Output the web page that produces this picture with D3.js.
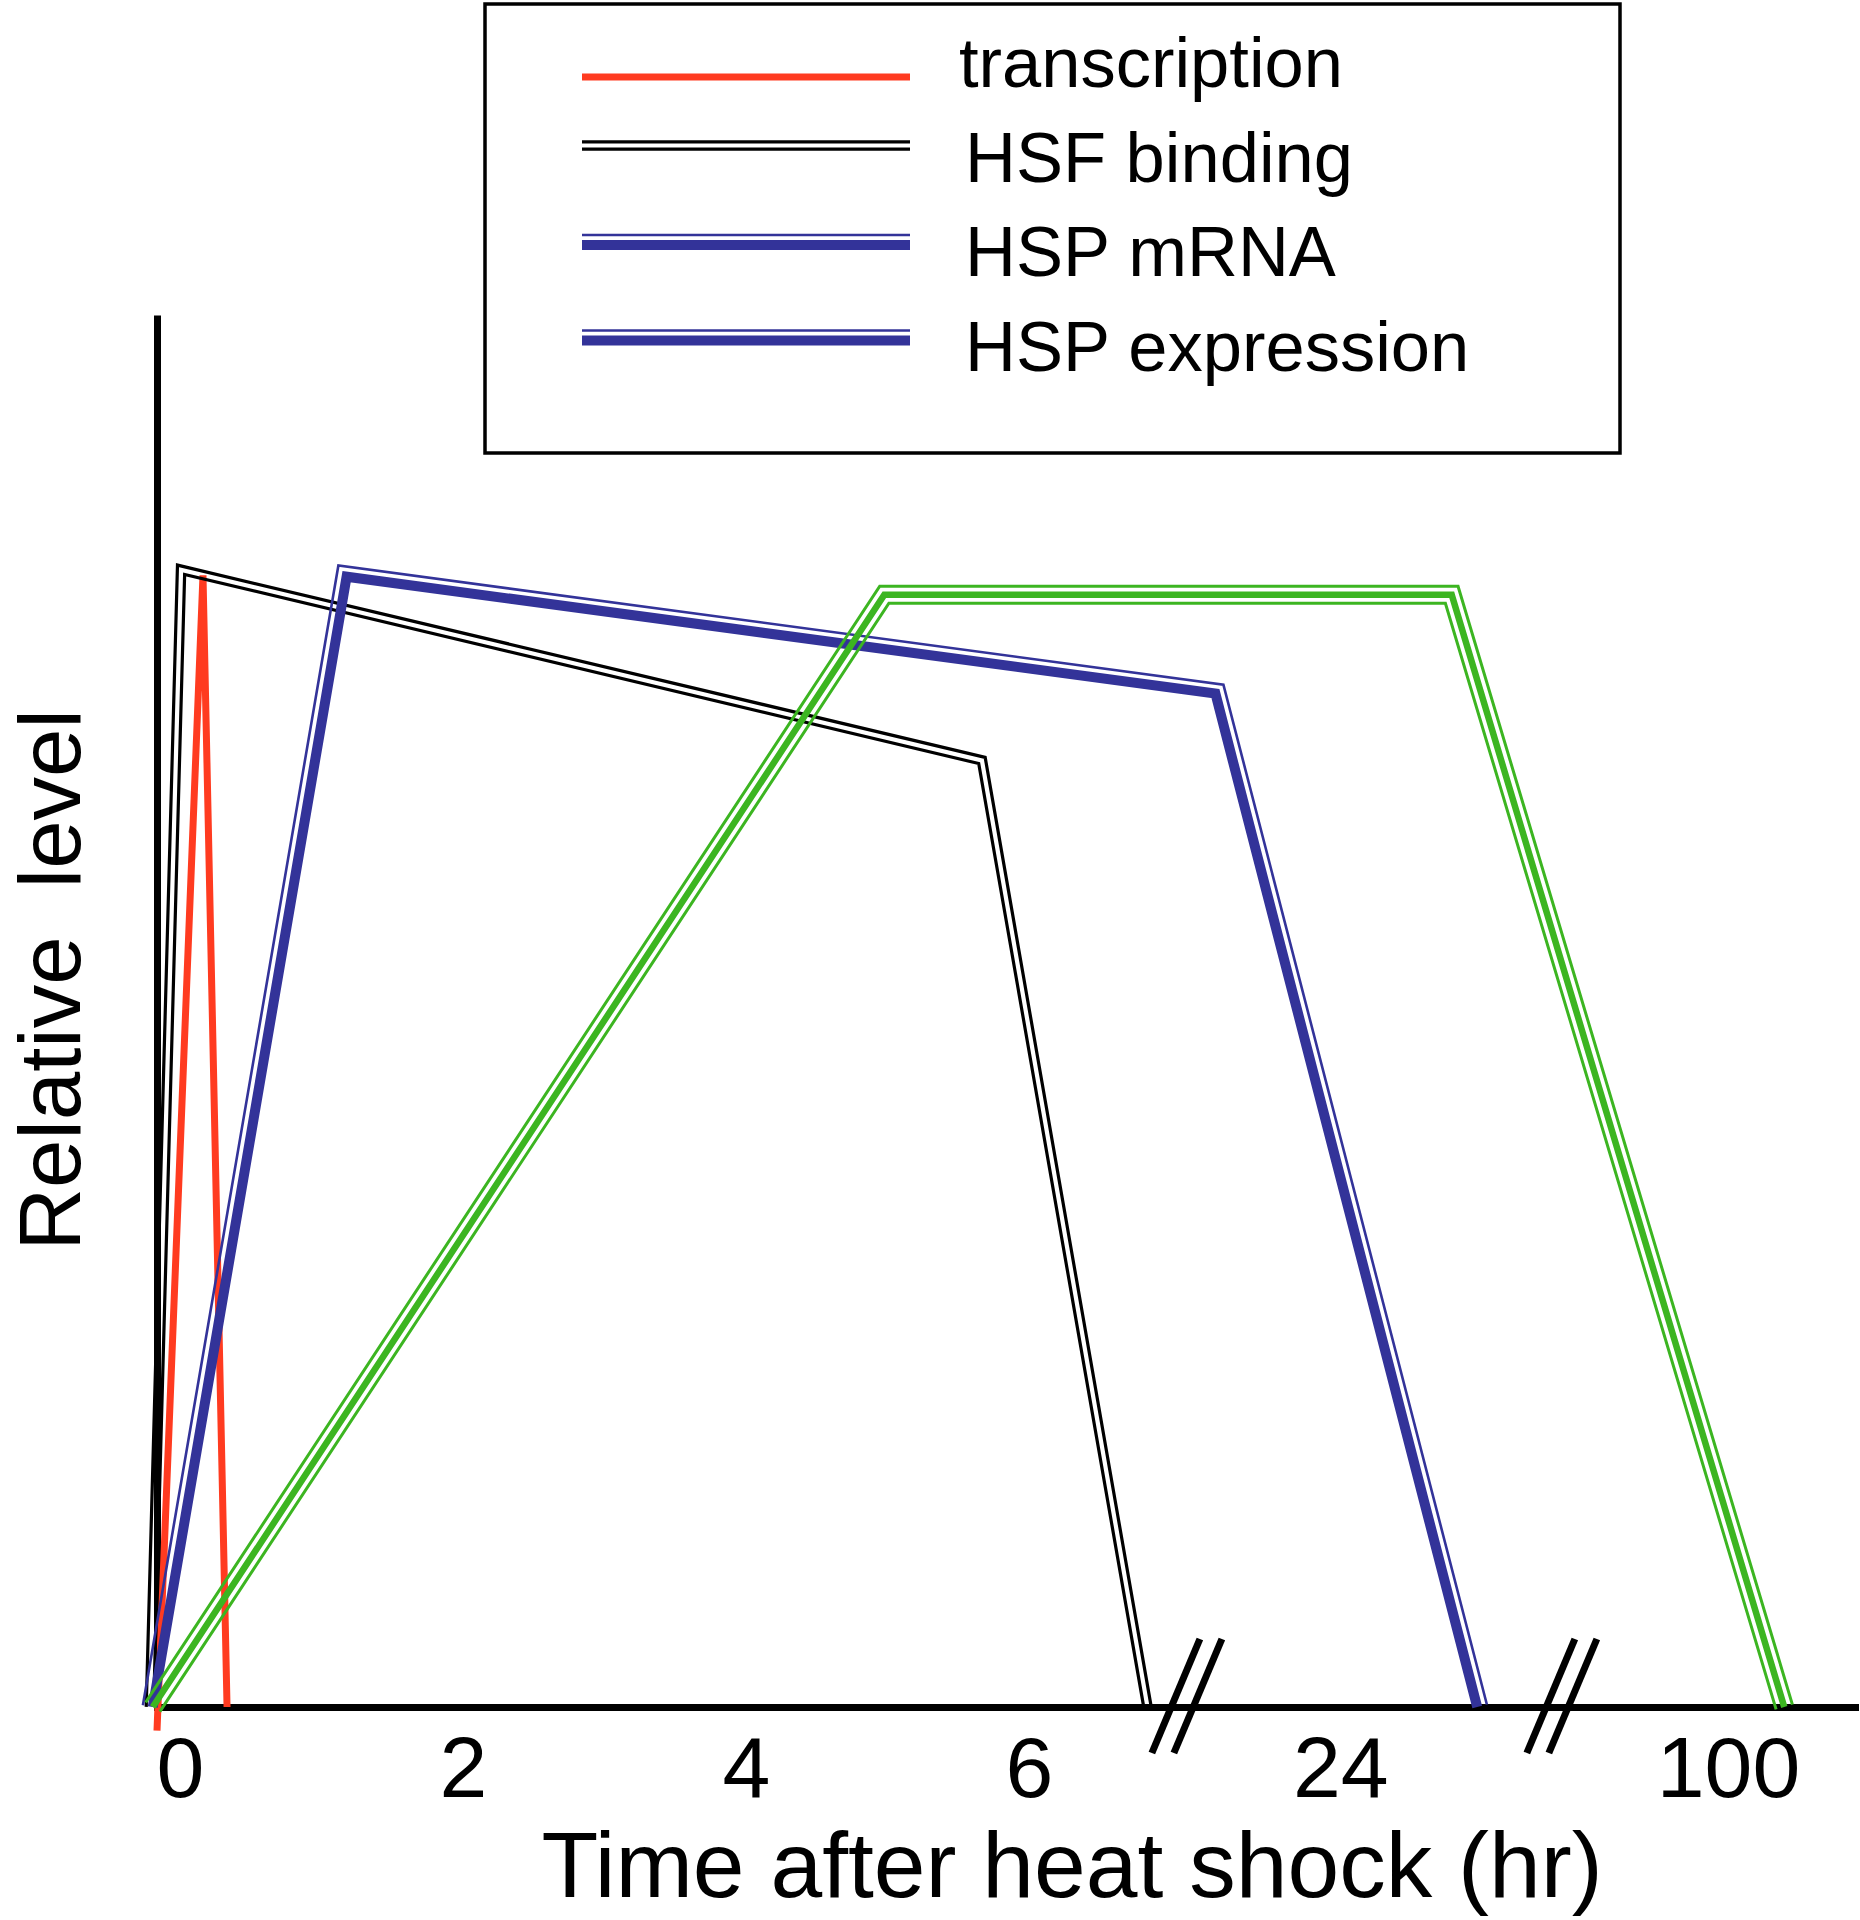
<!DOCTYPE html>
<html>
<head>
<meta charset="utf-8">
<script src="https://cdn.jsdelivr.net/npm/d3@7"></script>
<style>
  body { margin: 0; background: #fff; }
  text { font-family: "Liberation Sans", Arial, sans-serif; fill: #000; }
</style>
</head>
<body>
<div id="chart"></div>
<script>
// values (time in hr, level relative 0..1)
const seriesNames = ["transcription", "HSF binding", "HSP mRNA", "HSP expression"];
const transcriptionTime = [0, 0.325, 0.495];
const transcriptionLevel = [-0.017, 0.813, 0];
const hsfTime = [-0.05, 0.17, 5.83, 7.0];
const hsfLevel = [0, 0.817, 0.68, 0];
const mrnaTime = [-0.03, 1.34, 23.28, 25.13];
const mrnaLevel = [0, 0.812, 0.728, 0];
const expressionTime = [-0.03, 5.14, 24.95, 100.56];
const expressionLevel = [0, 0.799, 0.799, 0];
const tickValues = [0, 2, 4, 6, 24, 100];
// broken time axis: [start, break, resume, break, resume, end]
const timeDomain = [0, 7.25, 23.05, 25.7, 98.96, 101.06];

const width = 1860, height = 1920;
const x0 = 157, yBottom = 1707, yTop = 315;
const pxPerHour = 141.5;

const RED = "#ff3b20", BLUE = "#333399", GREEN = "#3cb521";

const svg = d3.select("#chart").append("svg")
    .attr("width", width)
    .attr("height", height)
    .style("background", "#fff");

// build piecewise range; the gaps collapse to a single point
const timeRange = [x0];
for (let i = 1; i < timeDomain.length; i++) {
    const prev = timeRange[i - 1];
    timeRange.push(i % 2 === 0 ? prev : prev + (timeDomain[i] - timeDomain[i - 1]) * pxPerHour);
}

const x = d3.scaleLinear().domain(timeDomain).range(timeRange);
const y = d3.scaleLinear().domain([0, 1]).range([yBottom, yTop]);

// offset a screen-space polyline sideways (positive = outer / upper side)
function offsetPoints(pts, d) {
    const n = pts.length;
    const normals = [];
    for (let i = 0; i < n - 1; i++) {
        const dx = pts[i + 1][0] - pts[i][0], dy = pts[i + 1][1] - pts[i][1];
        const len = Math.hypot(dx, dy);
        normals.push([dy / len, -dx / len]);
    }
    return pts.map((p, i) => {
        if (i === 0) return [p[0] + normals[0][0] * d, p[1] + normals[0][1] * d];
        if (i === n - 1) return [p[0] + normals[n - 2][0] * d, p[1] + normals[n - 2][1] * d];
        const a = normals[i - 1], b = normals[i];
        let mx = a[0] + b[0], my = a[1] + b[1];
        const ml = Math.hypot(mx, my);
        mx /= ml; my /= ml;
        const k = d / (mx * a[0] + my * a[1]);
        return [p[0] + mx * k, p[1] + my * k];
    });
}

const line = d3.line();

// stroke recipes: list of [offset, width, colour]
const styles = {
    red:   [[0, 7, RED]],
    black: [[3.7, 3.2, "#000"], [-3.7, 3.2, "#000"]],
    blue:  [[0, 10, BLUE], [10, 2.6, BLUE]],
    green: [[0, 6.5, GREEN], [8.5, 3, GREEN], [-8.5, 3, GREEN]]
};

function drawStyled(g, pts, recipe) {
    recipe.forEach(([off, w, c]) => {
        g.append("path")
            .attr("d", line(off === 0 ? pts : offsetPoints(pts, off)))
            .attr("fill", "none")
            .attr("stroke", c)
            .attr("stroke-width", w)
            .attr("stroke-linejoin", "miter")
            .attr("stroke-miterlimit", 10);
    });
}

// axes
const xAxis = d3.axisBottom(x).tickValues(tickValues).tickSize(0).tickSizeOuter(0).tickPadding(29);
const yAxis = d3.axisLeft(y).tickValues([]).tickSizeOuter(0);

const gx = svg.append("g")
    .attr("transform", "translate(0," + yBottom + ")")
    .call(xAxis);
gx.select(".domain").attr("stroke", "#000").attr("stroke-width", 7).attr("stroke-linecap", "square");
gx.selectAll(".tick text")
    .attr("dx", 23)
    .attr("font-size", 86)
    .style("font-family", "'Liberation Sans', Arial, sans-serif")
    .attr("fill", "#000");

const gy = svg.append("g")
    .attr("transform", "translate(" + x0 + ",0)")
    .call(yAxis);
gy.select(".domain").attr("stroke", "#000").attr("stroke-width", 7);

// series
const plot = svg.append("g");
const series = [
    { t: transcriptionTime, v: transcriptionLevel, style: "red" },
    { t: hsfTime, v: hsfLevel, style: "black" },
    { t: mrnaTime, v: mrnaLevel, style: "blue" },
    { t: expressionTime, v: expressionLevel, style: "green" }
];
series.forEach(s => {
    const pts = s.t.map((t, i) => [x(t), y(s.v[i])]);
    drawStyled(plot.append("g"), pts, styles[s.style]);
});

// axis break marks "//"
[timeDomain[1], timeDomain[3]].forEach(b => {
    const cx = x(b);
    [-11, 11].forEach(o => {
        svg.append("line")
            .attr("x1", cx + o - 20).attr("y1", yBottom + 46)
            .attr("x2", cx + o + 28).attr("y2", yBottom - 68)
            .attr("stroke", "#000")
            .attr("stroke-width", 7);
    });
});

// axis titles
svg.append("text")
    .attr("x", 1072)
    .attr("y", 1897)
    .attr("text-anchor", "middle")
    .attr("font-size", 93)
    .text("Time after heat shock (hr)");

svg.append("text")
    .attr("transform", "translate(80,980) rotate(-90)")
    .attr("text-anchor", "middle")
    .attr("font-size", 87)
    .style("white-space", "pre")
    .text("Relative  level");

// legend (both HSP entries use the blue swatch, as in the figure)
const legendStyles = ["red", "black", "blue", "blue"];
const legendLineDy = [-10, -36, -31, -30];
const legend = svg.append("g");
legend.append("rect")
    .attr("x", 485).attr("y", 4)
    .attr("width", 1135).attr("height", 449)
    .attr("fill", "none")
    .attr("stroke", "#000")
    .attr("stroke-width", 3.5);

seriesNames.forEach((name, i) => {
    const base = 87 + i * 94.5;
    const ly = base + legendLineDy[i];
    drawStyled(legend.append("g"), [[582, ly], [910, ly]], styles[legendStyles[i]]);
    legend.append("text")
        .attr("x", i === 0 ? 959 : 965)
        .attr("y", base)
        .attr("font-size", 70.5)
        .text(name);
});
</script>
</body>
</html>
